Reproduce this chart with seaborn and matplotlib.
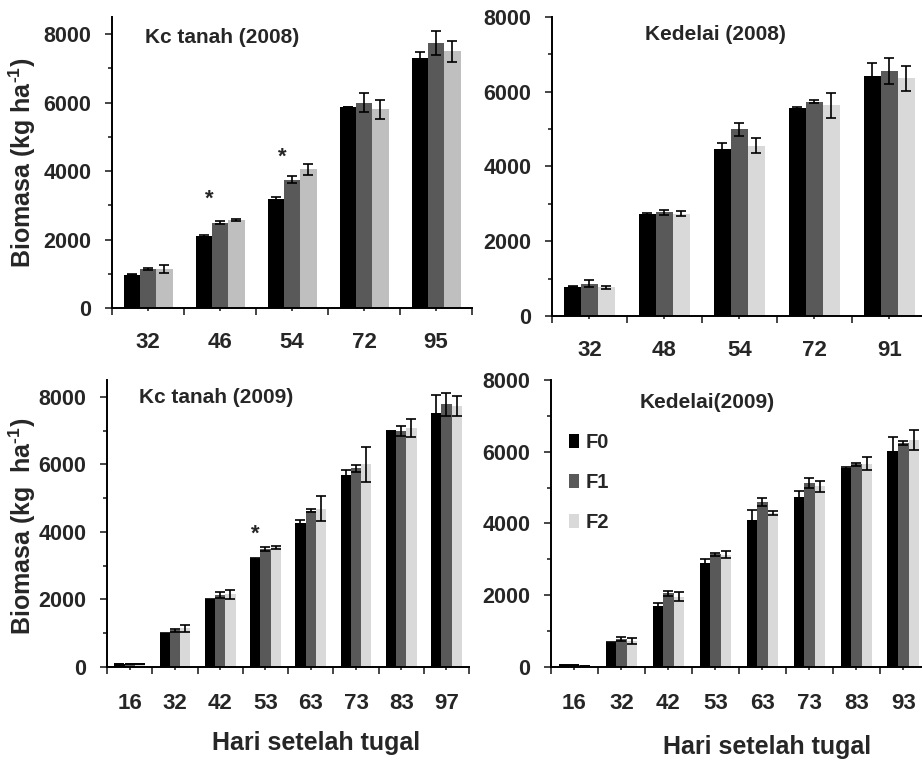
import numpy as np
import pandas as pd
import matplotlib
matplotlib.use('Agg')
import matplotlib.pyplot as plt
import seaborn as sns
from matplotlib.patches import Patch

# Data (perkiraan)
perlakuan = ['F0', 'F1', 'F2']

# Kc tanah (2008)
hari_kc08 = ['32', '46', '54', '72', '95']
kc08_f0 = [975, 2100, 3170, 5865, 7290]
kc08_f1 = [1140, 2490, 3750, 6000, 7740]
kc08_f2 = [1140, 2570, 4050, 5810, 7500]
kc08_e0 = [20, 20, 80, 0, 190]
kc08_e1 = [30, 50, 110, 280, 340]
kc08_e2 = [120, 30, 160, 280, 310]

# Kedelai (2008)
hari_kd08 = ['32', '48', '54', '72', '91']
kd08_f0 = [785, 2725, 4460, 5570, 6415]
kd08_f1 = [860, 2775, 4990, 5735, 6550]
kd08_f2 = [765, 2740, 4560, 5640, 6360]
kd08_e0 = [20, 20, 170, 20, 350]
kd08_e1 = [90, 60, 180, 40, 355]
kd08_e2 = [50, 70, 190, 330, 335]

# Kc tanah (2009)
hari_kc09 = ['16', '32', '42', '53', '63', '73', '83', '97']
kc09_f0 = [90, 1000, 2005, 3210, 4265, 5700, 7000, 7530]
kc09_f1 = [95, 1090, 2130, 3500, 4630, 5890, 7000, 7780]
kc09_f2 = [95, 1140, 2150, 3540, 4690, 6000, 7080, 7740]
kc09_e0 = [0, 20, 20, 20, 100, 140, 0, 540]
kc09_e1 = [0, 40, 80, 60, 40, 100, 150, 340]
kc09_e2 = [0, 110, 140, 40, 360, 520, 260, 300]

# Kedelai (2009)
hari_kd09 = ['16', '32', '42', '53', '63', '73', '83', '93']
kd09_f0 = [45, 680, 1710, 2910, 4085, 4745, 5550, 6020]
kd09_f1 = [45, 780, 2050, 3140, 4600, 5140, 5650, 6250]
kd09_f2 = [40, 725, 1960, 3130, 4300, 5040, 5670, 6330]
kd09_e0 = [0, 20, 60, 110, 290, 170, 20, 400]
kd09_e1 = [0, 60, 70, 50, 120, 140, 50, 60]
kd09_e2 = [0, 90, 120, 90, 60, 150, 190, 290]

warna_08 = ['#000000', '#595959', '#bfbfbf']
warna = ['#000000', '#595959', '#d9d9d9']

sns.set_theme(style='white')
plt.rcParams['font.family'] = ['Liberation Sans', 'DejaVu Sans']
plt.rcParams['font.weight'] = 'bold'
plt.rcParams['mathtext.fontset'] = 'custom'
plt.rcParams['mathtext.rm'] = 'Liberation Sans:bold'
plt.rcParams['mathtext.bf'] = 'Liberation Sans:bold'
plt.rcParams['mathtext.default'] = 'rm'

fig = plt.figure(figsize=(9.22, 7.62), dpi=100)


def panel(rect, hari, nilai, galat, judul, judul_xy, ytop, palet, xpad):
    ax = fig.add_axes(rect)
    df = pd.DataFrame({
        'hari': np.repeat(hari, 3),
        'perlakuan': perlakuan * len(hari),
        'biomasa': np.column_stack(nilai).ravel(),
    })
    sns.barplot(data=df, x='hari', y='biomasa', hue='perlakuan', order=hari,
                hue_order=perlakuan, palette=palet, errorbar=None, width=0.68,
                saturation=1, legend=False, linewidth=0, edgecolor='none', ax=ax)
    for cont, e in zip(ax.containers, galat):
        xs = [b.get_x() + b.get_width() / 2 for b in cont]
        ys = [b.get_height() for b in cont]
        ax.errorbar(xs, ys, yerr=e, fmt='none', ecolor='black', elinewidth=1.2,
                    capsize=3.5, capthick=1.2)
    n = len(hari)
    ax.set_xlim(-0.5, n - 0.5)
    ax.set_ylim(0, ytop)
    ax.set_xticks(range(n))
    ax.set_xticklabels(hari)
    ax.set_xticks(np.arange(-0.5, n), minor=True)
    ax.set_yticks(range(0, 8001, 2000))
    ax.set_yticks(range(1000, 8000, 2000), minor=True)
    ax.tick_params(axis='x', which='major', length=2.5, width=1.2, direction='out',
                   pad=xpad, labelsize=16, bottom=True)
    ax.tick_params(axis='x', which='minor', length=5, width=1.2, direction='out', bottom=True)
    ax.tick_params(axis='y', which='major', length=5, width=1.2, direction='out',
                   pad=10, labelsize=15.5, left=True)
    ax.tick_params(axis='y', which='minor', length=3, width=1.2, direction='out', left=True)
    for lab in ax.get_xticklabels() + ax.get_yticklabels():
        lab.set_fontweight('bold')
    ax.set_xlabel('')
    ax.set_ylabel('')
    for s in ['top', 'right']:
        ax.spines[s].set_visible(False)
    for s in ['left', 'bottom']:
        ax.spines[s].set_linewidth(1.4)
        ax.spines[s].set_color('black')
    ax.text(judul_xy[0], judul_xy[1], judul, transform=ax.transAxes, fontsize=15,
            fontweight='bold', ha='center', va='center')
    return ax


ax1 = panel([0.1215, 0.5958, 0.3905, 0.3819], hari_kc08,
            [kc08_f0, kc08_f1, kc08_f2], [kc08_e0, kc08_e1, kc08_e2],
            'Kc tanah (2008)', (0.305, 0.93), 8500, warna_08, 15)
ax2 = panel([0.5987, 0.5853, 0.4067, 0.3924], hari_kd08,
            [kd08_f0, kd08_f1, kd08_f2], [kd08_e0, kd08_e1, kd08_e2],
            'Kedelai (2008)', (0.435, 0.94), 8000, warna, 15)
ax3 = panel([0.1161, 0.1247, 0.3927, 0.3766], hari_kc09,
            [kc09_f0, kc09_f1, kc09_f2], [kc09_e0, kc09_e1, kc09_e2],
            'Kc tanah (2009)', (0.30, 0.94), 8500, warna, 16)
ax4 = panel([0.5976, 0.1247, 0.4078, 0.3766], hari_kd09,
            [kd09_f0, kd09_f1, kd09_f2], [kd09_e0, kd09_e1, kd09_e2],
            'Kedelai(2009)', (0.415, 0.92), 8000, warna, 16)

# tanda bintang
ax1.text(1 - 0.15, 3180, '*', fontsize=16, fontweight='bold', ha='center', va='center')
ax1.text(2 - 0.14, 4410, '*', fontsize=16, fontweight='bold', ha='center', va='center')
ax3.text(3 - 0.23, 3920, '*', fontsize=16, fontweight='bold', ha='center', va='center')

# legenda
handles = [Patch(facecolor=c, edgecolor='none', label=l) for c, l in zip(warna, perlakuan)]
ax4.legend(handles=handles, loc='upper left', bbox_to_anchor=(0.0, 0.878), frameon=False,
           handlelength=0.5, handleheight=0.7, handletextpad=0.3,
           labelspacing=1.05, prop={'weight': 'bold', 'size': 14.5})

fig.text(0.024, 0.787, 'Biomasa (kg ha$^{\\text{-1}}$)', rotation=90, fontsize=18,
         fontweight='bold', ha='center', va='center')
fig.text(0.024, 0.309, 'Biomasa (kg  ha$^{\\text{-1}}$)', rotation=90, fontsize=18,
         fontweight='bold', ha='center', va='center')
fig.text(0.343, 0.025, 'Hari setelah tugal', fontsize=18, fontweight='bold',
         ha='center', va='center')
fig.text(0.832, 0.020, 'Hari setelah tugal', fontsize=18, fontweight='bold',
         ha='center', va='center')

fig.savefig('out.png', dpi=100)
